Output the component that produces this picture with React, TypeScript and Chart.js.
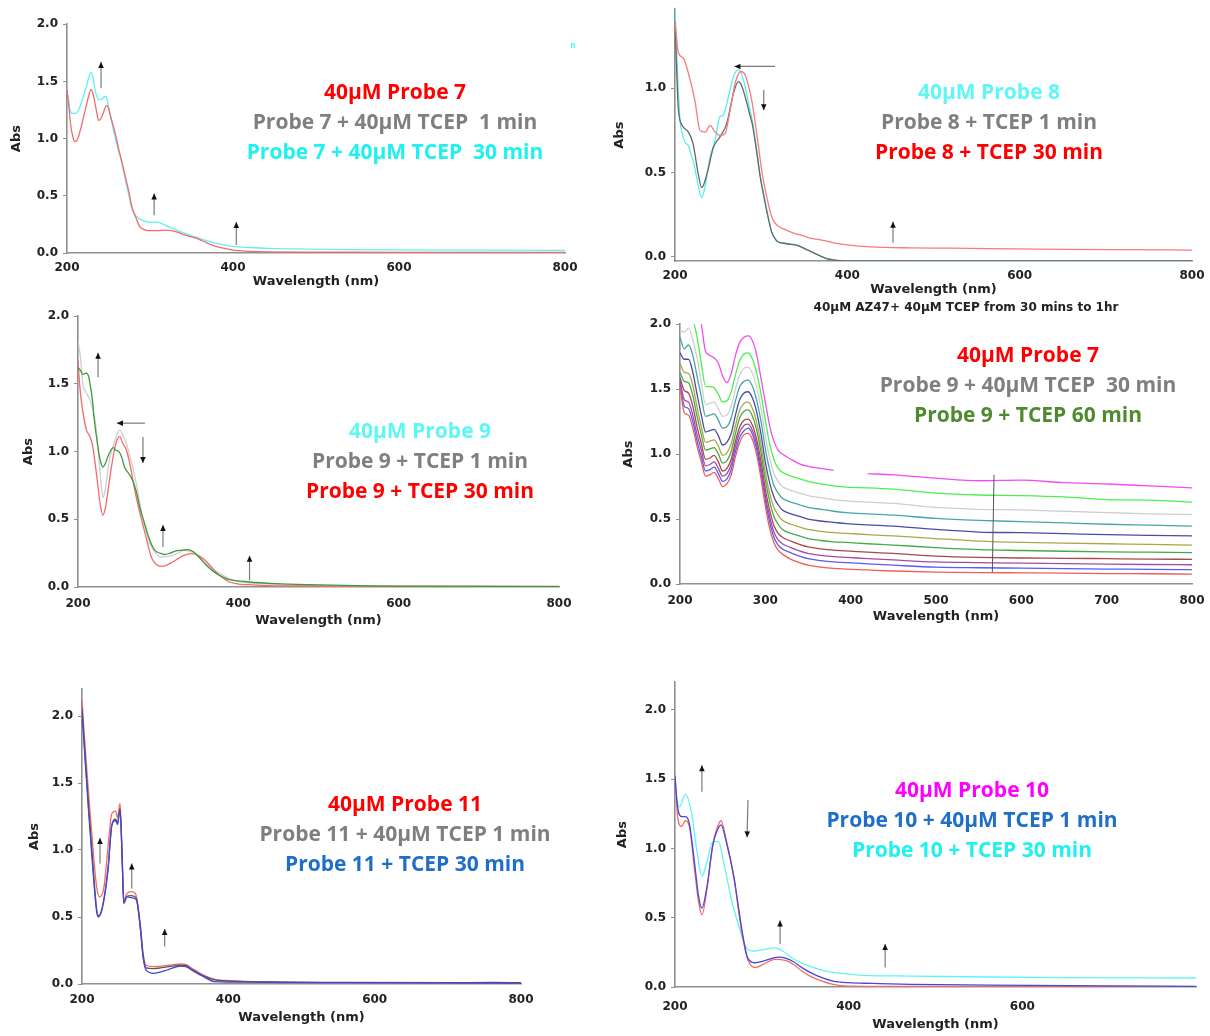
import React, { useEffect, useRef } from 'react';
import { Chart, registerables } from 'chart.js';
Chart.register(...registerables);

// ---------------- DATA ----------------
// Panel 1 (Probe 7)
const p1RedWl = [200, 202, 204.6, 207, 209, 211.5, 214, 218, 221, 224, 226, 229, 231.5, 233.7, 236, 238, 240.5, 243, 245.5, 247.5, 250, 252, 255, 258, 261, 264.6, 268, 271.5, 275, 278, 283, 287.7, 294.6, 300, 310, 318, 326, 334, 341, 350, 359, 368, 378, 390, 400, 420, 442, 500, 600, 700, 800];
const p1RedAbs = [1.43, 1.30, 1.11, 1.02, 0.975, 0.98, 1.02, 1.13, 1.22, 1.31, 1.37, 1.43, 1.39, 1.31, 1.22, 1.16, 1.17, 1.21, 1.26, 1.29, 1.27, 1.21, 1.13, 1.05, 0.95, 0.84, 0.74, 0.63, 0.52, 0.41, 0.31, 0.23, 0.20, 0.195, 0.195, 0.20, 0.195, 0.18, 0.16, 0.14, 0.12, 0.09, 0.06, 0.04, 0.025, 0.015, 0.01, 0.008, 0.006, 0.005, 0.005];
const p1CyanWl = [200, 202, 203.7, 207, 210, 214, 218, 221, 224, 226, 229, 231.5, 233.7, 236, 238, 240.5, 243, 246, 248, 250.8, 254, 257.7, 261, 264.6, 268, 271.5, 275, 278, 281.5, 285, 292, 300, 308, 315, 322, 332, 341, 350, 359, 368, 378, 390, 400, 420, 442, 490, 535, 600, 700, 800];
const p1CyanAbs = [1.41, 1.33, 1.25, 1.22, 1.22, 1.25, 1.33, 1.40, 1.47, 1.53, 1.58, 1.53, 1.43, 1.37, 1.34, 1.34, 1.35, 1.37, 1.35, 1.25, 1.14, 1.02, 0.92, 0.83, 0.72, 0.60, 0.49, 0.39, 0.34, 0.31, 0.28, 0.27, 0.27, 0.255, 0.23, 0.20, 0.175, 0.15, 0.13, 0.108, 0.087, 0.07, 0.058, 0.048, 0.04, 0.034, 0.03, 0.027, 0.025, 0.023];

// Panel 2 (Probe 8)
const p2CyanWl = [200, 202, 205.8, 208, 211.6, 215.5, 219, 222, 227, 231, 235, 240.7, 246.5, 252, 256, 262, 267.8, 273.6, 279.5, 283, 287, 290, 294, 299, 303, 308, 312, 317, 321, 328, 334, 341, 348, 356, 366, 375, 384, 392, 402, 500, 600, 700, 800];
const p2CyanAbs = [1.47, 1.2, 0.81, 0.74, 0.68, 0.66, 0.6, 0.55, 0.42, 0.35, 0.42, 0.59, 0.69, 0.83, 0.84, 0.95, 1.07, 1.11, 1.05, 0.97, 0.87, 0.8, 0.66, 0.48, 0.37, 0.24, 0.15, 0.1, 0.085, 0.08, 0.075, 0.07, 0.055, 0.035, 0.01, -0.01, -0.02, -0.024, -0.025, -0.025, -0.025, -0.025, -0.025];
const p2GreyWl = [200, 202, 204, 209.7, 215.5, 221, 227, 231, 237, 244.6, 252, 260, 267.8, 273.6, 277, 281.4, 287, 290, 294, 299, 303, 308, 312, 317, 321, 328, 334, 341, 348, 356, 366, 375, 384, 392, 402, 800];
const p2GreyAbs = [1.40, 1.1, 0.87, 0.77, 0.74, 0.67, 0.49, 0.41, 0.49, 0.65, 0.71, 0.79, 0.97, 1.04, 1.02, 0.95, 0.84, 0.78, 0.65, 0.47, 0.36, 0.235, 0.148, 0.1, 0.085, 0.078, 0.073, 0.068, 0.053, 0.034, 0.01, -0.01, -0.02, -0.024, -0.025, -0.025];
const p2RedWl = [200, 204, 209.7, 215.5, 223, 229, 235, 240.7, 246.5, 252, 258, 264, 269.8, 276.4, 281.4, 285, 289, 293, 297, 301, 304.6, 308, 312, 316, 320, 328, 337.6, 348, 357, 368.6, 384, 400, 427, 474, 520, 564, 650, 720, 800];
const p2RedAbs = [1.40, 1.21, 1.18, 1.09, 0.93, 0.75, 0.74, 0.78, 0.74, 0.72, 0.73, 0.87, 1.03, 1.10, 1.08, 1.02, 0.93, 0.8, 0.65, 0.5, 0.40, 0.32, 0.24, 0.2, 0.18, 0.16, 0.14, 0.125, 0.11, 0.1, 0.082, 0.07, 0.058, 0.052, 0.05, 0.047, 0.043, 0.041, 0.039];

// Panel 3 (Probe 9)
const p3GreenWl = [200, 203, 206, 210.5, 213, 215, 218, 220, 225, 228, 231, 234, 237, 241, 244, 247, 251, 255, 258, 263, 268, 273, 277, 282, 287, 292, 296, 302, 308, 315, 322, 330, 337, 344, 351, 360, 370, 380, 389, 400, 413, 446, 485, 580, 700, 800];
const p3GreenAbs = [1.62, 1.6, 1.57, 1.58, 1.56, 1.5, 1.38, 1.25, 1.03, 0.93, 0.886, 0.91, 0.96, 1.01, 1.03, 1.01, 1.0, 0.95, 0.886, 0.84, 0.79, 0.7, 0.59, 0.49, 0.39, 0.31, 0.27, 0.25, 0.24, 0.25, 0.266, 0.272, 0.276, 0.26, 0.22, 0.16, 0.11, 0.075, 0.054, 0.045, 0.037, 0.025, 0.017, 0.007, 0.004, 0.003];
const p3GreyWl = [200, 203, 206, 210, 215, 219, 222, 226, 229, 231, 234, 239, 243, 246, 249, 252, 256, 260.5, 265, 270, 275, 279.6, 285, 291.5, 297, 303, 310, 318, 325, 332, 339, 346, 355, 365, 377, 389, 400, 413, 450, 500, 600, 800];
const p3GreyAbs = [1.82, 1.7, 1.5, 1.44, 1.38, 1.3, 1.2, 0.95, 0.75, 0.66, 0.72, 0.93, 1.03, 1.08, 1.13, 1.16, 1.12, 1.06, 0.96, 0.84, 0.69, 0.54, 0.41, 0.295, 0.25, 0.22, 0.225, 0.234, 0.25, 0.27, 0.265, 0.246, 0.2, 0.148, 0.1, 0.06, 0.04, 0.03, 0.02, 0.012, 0.008, 0.005];
const p3RedWl = [200, 202, 204, 207, 210.5, 214, 217.6, 221, 225, 228, 231, 234, 237, 241, 246, 249, 252, 256, 260.5, 265, 270, 275, 279.6, 286, 291.5, 297, 303, 310, 318, 325, 332, 341.5, 349, 356, 363, 370, 380, 389, 400, 413, 437, 500, 600, 800];
const p3RedAbs = [1.67, 1.5, 1.38, 1.26, 1.16, 1.12, 1.06, 0.93, 0.74, 0.6, 0.53, 0.58, 0.69, 0.86, 1.03, 1.09, 1.11, 1.06, 1.01, 0.9, 0.74, 0.6, 0.49, 0.34, 0.22, 0.17, 0.153, 0.16, 0.185, 0.21, 0.234, 0.246, 0.235, 0.21, 0.17, 0.123, 0.07, 0.037, 0.022, 0.017, 0.01, 0.007, 0.005, 0.004];

// Panel 4 (time series, 30 min to 1 hr)
const p4Wl = [200, 205, 210, 215, 220, 225, 230, 235, 240, 245, 250, 255, 260, 265, 270, 275, 280, 285, 290, 295, 300, 305, 310, 315, 320, 330, 340, 350, 365, 380, 395, 420, 450, 500, 550, 600, 650, 700, 750, 800];
const p4Magenta = [2.6, 2.5, 2.4, 2.3, 2.15, 2.0, 1.79, 1.76, 1.74, 1.70, 1.60, 1.55, 1.62, 1.76, 1.86, 1.90, 1.91, 1.87, 1.76, 1.58, 1.40, 1.22, 1.10, 1.03, 1.0, 0.96, 0.925, 0.905, 0.89, 0.875, null, 0.85, 0.84, 0.815, 0.795, 0.80, 0.78, 0.77, 0.755, 0.74];
const p4Green = [2.3, 2.25, 2.2, 2.05, 1.90, 1.70, 1.52, 1.52, 1.51, 1.46, 1.40, 1.41, 1.48, 1.61, 1.72, 1.77, 1.78, 1.73, 1.62, 1.46, 1.26, 1.08, 0.96, 0.89, 0.86, 0.83, 0.81, 0.79, 0.77, 0.755, 0.745, 0.74, 0.73, 0.70, 0.685, 0.68, 0.67, 0.65, 0.645, 0.63];
const p4Grey = [1.95, 1.94, 1.97, 1.88, 1.74, 1.55, 1.38, 1.39, 1.40, 1.35, 1.29, 1.30, 1.37, 1.50, 1.61, 1.66, 1.67, 1.62, 1.51, 1.35, 1.14, 0.97, 0.85, 0.79, 0.75, 0.72, 0.70, 0.68, 0.665, 0.65, 0.64, 0.63, 0.62, 0.59, 0.575, 0.57, 0.56, 0.55, 0.54, 0.535];
const p4Teal = [1.90, 1.81, 1.84, 1.76, 1.60, 1.44, 1.29, 1.30, 1.31, 1.26, 1.20, 1.21, 1.28, 1.41, 1.52, 1.56, 1.57, 1.52, 1.41, 1.25, 1.04, 0.88, 0.76, 0.70, 0.66, 0.63, 0.61, 0.59, 0.575, 0.56, 0.55, 0.54, 0.53, 0.505, 0.49, 0.48, 0.47, 0.46, 0.453, 0.446];
const p4Navy = [1.78, 1.73, 1.73, 1.63, 1.46, 1.30, 1.17, 1.18, 1.19, 1.14, 1.07, 1.09, 1.16, 1.30, 1.42, 1.47, 1.48, 1.43, 1.32, 1.15, 0.94, 0.78, 0.67, 0.61, 0.57, 0.54, 0.52, 0.5, 0.485, 0.475, 0.465, 0.455, 0.445, 0.42, 0.40, 0.395, 0.388, 0.38, 0.375, 0.37];
const p4Olive = [1.70, 1.63, 1.62, 1.53, 1.36, 1.21, 1.09, 1.10, 1.11, 1.06, 0.99, 1.01, 1.08, 1.22, 1.34, 1.39, 1.40, 1.35, 1.24, 1.07, 0.86, 0.70, 0.59, 0.53, 0.49, 0.46, 0.44, 0.42, 0.405, 0.395, 0.39, 0.38, 0.37, 0.35, 0.33, 0.32, 0.315, 0.31, 0.305, 0.30];
const p4Green2 = [1.63, 1.56, 1.55, 1.45, 1.29, 1.15, 1.03, 1.04, 1.05, 1.00, 0.93, 0.95, 1.02, 1.16, 1.28, 1.33, 1.34, 1.29, 1.18, 1.01, 0.80, 0.64, 0.52, 0.46, 0.42, 0.39, 0.37, 0.35, 0.335, 0.325, 0.32, 0.31, 0.3, 0.28, 0.265, 0.258, 0.252, 0.248, 0.245, 0.242];
const p4Brown = [1.59, 1.49, 1.47, 1.37, 1.21, 1.08, 0.96, 0.97, 0.99, 0.94, 0.87, 0.89, 0.96, 1.10, 1.21, 1.26, 1.27, 1.22, 1.11, 0.94, 0.73, 0.57, 0.45, 0.39, 0.36, 0.33, 0.305, 0.285, 0.27, 0.26, 0.255, 0.245, 0.235, 0.215, 0.205, 0.2, 0.198, 0.195, 0.192, 0.19];
const p4Purple = [1.57, 1.42, 1.40, 1.30, 1.15, 1.03, 0.91, 0.92, 0.94, 0.89, 0.83, 0.85, 0.92, 1.06, 1.17, 1.22, 1.23, 1.18, 1.07, 0.89, 0.68, 0.52, 0.40, 0.34, 0.31, 0.28, 0.255, 0.235, 0.22, 0.21, 0.205, 0.195, 0.185, 0.17, 0.165, 0.16, 0.157, 0.153, 0.15, 0.148];
const p4Blue = [1.54, 1.37, 1.35, 1.25, 1.10, 0.98, 0.87, 0.88, 0.90, 0.85, 0.79, 0.81, 0.88, 1.02, 1.13, 1.18, 1.20, 1.15, 1.03, 0.85, 0.64, 0.48, 0.36, 0.30, 0.27, 0.24, 0.215, 0.195, 0.18, 0.17, 0.165, 0.155, 0.145, 0.13, 0.125, 0.122, 0.118, 0.115, 0.113, 0.11];
const p4Red = [1.52, 1.32, 1.30, 1.20, 1.06, 0.94, 0.83, 0.84, 0.86, 0.81, 0.75, 0.77, 0.84, 0.98, 1.09, 1.15, 1.16, 1.11, 0.99, 0.81, 0.60, 0.43, 0.32, 0.26, 0.23, 0.19, 0.165, 0.145, 0.13, 0.12, 0.115, 0.108, 0.1, 0.092, 0.088, 0.086, 0.084, 0.08, 0.079, 0.076];
const p4MarkerWl = [568, 566];
const p4MarkerAbs = [0.84, 0.09];

// Panel 5 (Probe 11)
const p5RedWl = [200, 204, 209, 214.6, 220, 224, 230, 235.5, 240.7, 246, 248.5, 252, 255, 257, 261.5, 266.8, 271, 274.6, 280, 283.5, 287.6, 298, 319, 334.6, 342, 350, 366, 381.6, 402, 454.6, 559, 700, 800];
const p5RedAbs = [2.12, 1.79, 1.42, 1.04, 0.725, 0.65, 0.725, 1.02, 1.27, 1.29, 1.24, 1.35, 0.92, 0.63, 0.675, 0.69, 0.685, 0.65, 0.43, 0.23, 0.14, 0.13, 0.14, 0.15, 0.145, 0.117, 0.067, 0.035, 0.025, 0.015, 0.01, 0.007, 0.006];
const p5GreyWl = [200, 204, 209, 214.6, 220, 222.4, 227.6, 235.5, 240.7, 246, 248.5, 252, 255, 257, 261.5, 266.8, 271, 274.6, 280, 283.5, 287.6, 298, 319, 334.6, 342, 350, 366, 381.6, 402, 454.6, 559, 700, 760, 800];
const p5GreyAbs = [2.06, 1.72, 1.32, 0.92, 0.56, 0.51, 0.57, 0.86, 1.18, 1.23, 1.2, 1.31, 0.92, 0.61, 0.655, 0.66, 0.655, 0.63, 0.41, 0.21, 0.12, 0.115, 0.13, 0.14, 0.138, 0.11, 0.06, 0.03, 0.022, 0.015, 0.012, 0.01, 0.012, 0.01];
const p5BlueWl = [200, 204, 209, 214.6, 220, 222.4, 227.6, 235.5, 240.7, 246, 248.5, 252, 255, 257, 261.5, 266.8, 271, 274.6, 280, 283.5, 287.6, 298, 319, 334.6, 342, 350, 366, 381.6, 402, 454.6, 559, 700, 800];
const p5BlueAbs = [2.04, 1.69, 1.29, 0.87, 0.54, 0.50, 0.56, 0.845, 1.185, 1.22, 1.19, 1.30, 0.92, 0.60, 0.65, 0.645, 0.64, 0.626, 0.40, 0.20, 0.104, 0.08, 0.11, 0.134, 0.13, 0.104, 0.055, 0.017, 0.015, 0.012, 0.01, 0.008, 0.007];

// Panel 6 (Probe 10)
const p6RedWl = [200, 203, 207.6, 212, 216.5, 223, 227, 231, 236.7, 243.4, 248, 253, 259, 268, 273, 277, 283.7, 292.6, 301.6, 315, 328, 337, 346, 355, 364, 382, 400, 500, 800];
const p6RedAbs = [1.53, 1.23, 1.16, 1.2, 1.16, 0.82, 0.62, 0.52, 0.70, 1.02, 1.14, 1.20, 1.06, 0.78, 0.56, 0.39, 0.20, 0.14, 0.163, 0.20, 0.19, 0.16, 0.115, 0.08, 0.055, 0.019, 0.007, 0.004, 0.003];
const p6BlueWl = [200, 203, 207.6, 212, 216.5, 223, 227, 231, 236.7, 243.4, 248, 253, 259, 268, 273, 277, 283.7, 292.6, 301.6, 319.5, 328, 337, 346, 364, 382, 400, 427, 472, 561, 700, 800];
const p6BlueAbs = [1.52, 1.30, 1.23, 1.23, 1.18, 0.87, 0.66, 0.57, 0.72, 1.02, 1.12, 1.17, 1.05, 0.79, 0.58, 0.415, 0.21, 0.175, 0.187, 0.216, 0.206, 0.18, 0.14, 0.08, 0.043, 0.031, 0.026, 0.019, 0.014, 0.008, 0.005];
const p6CyanWl = [200, 205, 212, 219, 225.5, 231, 236.7, 243.4, 250, 257, 265.8, 274.7, 281, 290, 301.6, 315, 324, 337, 355, 373, 392, 418, 471.6, 561, 650.5, 800];
const p6CyanAbs = [1.42, 1.30, 1.39, 1.26, 0.97, 0.80, 0.90, 1.05, 1.05, 0.87, 0.61, 0.415, 0.295, 0.26, 0.27, 0.283, 0.26, 0.20, 0.15, 0.115, 0.098, 0.084, 0.079, 0.072, 0.067, 0.065];

// Arrow annotations [x1, y1, x2, y2] in data units (tail -> head)
const p1Arrows = [[241, 1.44, 241, 1.67], [305, 0.33, 305, 0.52], [404, 0.07, 404, 0.27]];
const p2Arrows = [[316, 1.13, 269, 1.13], [303, 0.99, 303, 0.87], [453, 0.083, 453, 0.207]];
const p3Arrows = [[225, 1.55, 225, 1.73], [283.5, 1.21, 248.6, 1.21], [281, 1.107, 281, 0.915], [306, 0.295, 306, 0.457], [414, 0.05, 414, 0.23]];
const p5Arrows = [[224.6, 0.90, 224.6, 1.09], [268, 0.71, 268, 0.90], [313, 0.28, 313, 0.41]];
const p6Arrows = [[231, 1.41, 231, 1.60], [284, 1.35, 283, 1.08], [321, 0.31, 321, 0.48], [442, 0.14, 442, 0.31]];

// Tick labels
const xTicksFull = [200, 400, 600, 800];
const xTicksHundreds = [200, 300, 400, 500, 600, 700, 800];
const xTicksP6 = [200, 400, 600];
const yTicksFull = [0, 0.5, 1.0, 1.5, 2.0];
const yTicksP2 = [0, 0.5, 1.0];

// Legend-like captions
const p1Labels = ['40μM Probe 7', 'Probe 7 + 40μM TCEP  1 min', 'Probe 7 + 40μM TCEP  30 min'];
const p2Labels = ['40μM Probe 8', 'Probe 8 + TCEP 1 min', 'Probe 8 + TCEP 30 min'];
const p3Labels = ['40μM Probe 9', 'Probe 9 + TCEP 1 min', 'Probe 9 + TCEP 30 min'];
const p4Labels = ['40μM Probe 7', 'Probe 9 + 40μM TCEP  30 min', 'Probe 9 + TCEP 60 min'];
const p5Labels = ['40μM Probe 11', 'Probe 11 + 40μM TCEP 1 min', 'Probe 11 + TCEP 30 min'];
const p6Labels = ['40μM Probe 10', 'Probe 10 + 40μM TCEP 1 min', 'Probe 10 + TCEP 30 min'];
const p4Caption = '40μM AZ47+ 40μM TCEP from 30 mins to 1hr';

// ---------------- RENDERING ----------------
const PAD_TOP = 12;
const PAD_RIGHT = 22;

interface SeriesCfg { wl: number[]; abs: (number | null)[]; color: string; width?: number; tension?: boolean; }
interface PanelCfg {
  left: number; top: number; right: number; bottom: number;
  yMin: number; yMax: number; yTicks: number[]; xTicks: number[];
  yAxisW: number; xAxisH: number; xLabelPad: number;
  series: SeriesCfg[]; arrows: number[][];
}

const arrowPlugin = {
  id: 'arrowMarks',
  afterDatasetsDraw(chart: any, _args: any, opts: any) {
    const items: number[][] = (opts && opts.items) || [];
    const { ctx, scales } = chart;
    const xs = scales.x, ys = scales.y;
    ctx.save();
    for (const a of items) {
      const x1 = xs.getPixelForValue(a[0]);
      const y1 = ys.getPixelForValue(a[1]);
      const x2 = xs.getPixelForValue(a[2]);
      const y2 = ys.getPixelForValue(a[3]);
      ctx.strokeStyle = '#7a7a7a';
      ctx.lineWidth = 1.2;
      ctx.beginPath();
      ctx.moveTo(x1, y1);
      ctx.lineTo(x2, y2);
      ctx.stroke();
      const ang = Math.atan2(y2 - y1, x2 - x1);
      const L = 6, W = 2.8;
      ctx.fillStyle = '#111';
      ctx.beginPath();
      ctx.moveTo(x2, y2);
      ctx.lineTo(x2 - L * Math.cos(ang) + W * Math.sin(ang), y2 - L * Math.sin(ang) - W * Math.cos(ang));
      ctx.lineTo(x2 - L * Math.cos(ang) - W * Math.sin(ang), y2 - L * Math.sin(ang) + W * Math.cos(ang));
      ctx.closePath();
      ctx.fill();
    }
    ctx.restore();
  },
};

const tickFont = { family: '"DejaVu Sans", Arial, sans-serif', weight: 'bold' as const, size: 12 };
const titleFont = { family: '"DejaVu Sans", Arial, sans-serif', weight: 'bold' as const, size: 13 };

function Panel({ cfg }: { cfg: PanelCfg }) {
  const ref = useRef<HTMLCanvasElement | null>(null);
  const width = cfg.right - cfg.left + cfg.yAxisW + PAD_RIGHT;
  const height = cfg.bottom - cfg.top + PAD_TOP + cfg.xAxisH;
  useEffect(() => {
    if (!ref.current) return;
    const chart = new Chart(ref.current, {
      type: 'line',
      data: {
        datasets: cfg.series.map((s) => ({
          data: s.wl.map((x, i) => ({ x, y: s.abs[i] })),
          borderColor: s.color,
          borderWidth: s.width ?? 1.3,
          pointRadius: 0,
          fill: false,
          cubicInterpolationMode: s.tension === false ? 'default' : 'monotone',
          tension: 0,
          spanGaps: false,
        })),
      } as any,
      options: {
        animation: false,
        responsive: false,
        devicePixelRatio: 1,
        events: [],
        layout: { padding: { left: 0, top: PAD_TOP, right: PAD_RIGHT, bottom: 0 } },
        plugins: {
          legend: { display: false },
          tooltip: { enabled: false },
          arrowMarks: { items: cfg.arrows },
        } as any,
        scales: {
          x: {
            type: 'linear',
            min: 200,
            max: 800,
            afterBuildTicks: (s: any) => { s.ticks = cfg.xTicks.map((v) => ({ value: v })); },
            afterFit: (s: any) => { s.height = cfg.xAxisH; },
            ticks: {
              font: tickFont, color: '#222', padding: cfg.xLabelPad, maxRotation: 0, autoSkip: false,
              callback: (v: any) => String(v),
            },
            grid: { display: true, drawOnChartArea: false, drawTicks: true, tickLength: 4, color: 'rgba(0,0,0,0)' },
            border: { display: true, color: '#8f8f8f', width: 1.6 },
            title: { display: true, text: 'Wavelength (nm)', font: titleFont, color: '#222' },
          },
          y: {
            type: 'linear',
            min: cfg.yMin,
            max: cfg.yMax,
            afterBuildTicks: (s: any) => { s.ticks = cfg.yTicks.map((v) => ({ value: v })); },
            afterFit: (s: any) => { s.width = cfg.yAxisW; },
            ticks: { font: tickFont, color: '#222', padding: 5, callback: (v: any) => Number(v).toFixed(1) },
            grid: { display: true, drawOnChartArea: false, drawTicks: true, tickLength: 4, color: '#8f8f8f' },
            border: { display: true, color: '#8f8f8f', width: 1.6 },
            title: { display: true, text: 'Abs', font: titleFont, color: '#222' },
          },
        } as any,
      },
      plugins: [arrowPlugin],
    });
    return () => chart.destroy();
  }, []);
  return (
    <canvas
      ref={ref}
      width={width}
      height={height}
      style={{ position: 'absolute', left: cfg.left - cfg.yAxisW, top: cfg.top - PAD_TOP, width, height }}
    />
  );
}

const RED = '#f46a6a';
const panels: PanelCfg[] = [
  {
    left: 67, top: 24, right: 565, bottom: 253, yMin: 0, yMax: 2.0, yTicks: yTicksFull, xTicks: xTicksFull,
    yAxisW: 62, xAxisH: 40, xLabelPad: 4, arrows: p1Arrows,
    series: [
      { wl: p1RedWl, abs: p1RedAbs, color: RED },
      { wl: p1CyanWl, abs: p1CyanAbs, color: '#5ff2f2' },
    ],
  },
  {
    left: 675, top: 8.6, right: 1192, bottom: 261.4, yMin: -0.026, yMax: 1.47, yTicks: yTicksP2, xTicks: xTicksFull,
    yAxisW: 67, xAxisH: 40, xLabelPad: 4, arrows: p2Arrows,
    series: [
      { wl: p2RedWl, abs: p2RedAbs, color: '#f77b7b' },
      { wl: p2GreyWl, abs: p2GreyAbs, color: '#666666' },
      { wl: p2CyanWl, abs: p2CyanAbs, color: '#55eeee' },
    ],
  },
  {
    left: 78, top: 316, right: 559, bottom: 587, yMin: 0, yMax: 2.0, yTicks: yTicksFull, xTicks: xTicksFull,
    yAxisW: 61, xAxisH: 45, xLabelPad: 6, arrows: p3Arrows,
    series: [
      { wl: p3GreenWl, abs: p3GreenAbs, color: '#3f9a3f' },
      { wl: p3RedWl, abs: p3RedAbs, color: RED },
      { wl: p3GreyWl, abs: p3GreyAbs, color: '#cfcfcf' },
    ],
  },
  {
    left: 680, top: 324, right: 1192, bottom: 584, yMin: 0, yMax: 2.0, yTicks: yTicksFull, xTicks: xTicksHundreds,
    yAxisW: 63, xAxisH: 44, xLabelPad: 6, arrows: [],
    series: [
      { wl: p4MarkerWl, abs: p4MarkerAbs, color: '#555555', width: 1, tension: false },
      { wl: p4Wl, abs: p4Red, color: '#f35b5b' },
      { wl: p4Wl, abs: p4Blue, color: '#5a5af5' },
      { wl: p4Wl, abs: p4Purple, color: '#a24ca2' },
      { wl: p4Wl, abs: p4Brown, color: '#a84848' },
      { wl: p4Wl, abs: p4Green2, color: '#46a846' },
      { wl: p4Wl, abs: p4Olive, color: '#a8a845' },
      { wl: p4Wl, abs: p4Navy, color: '#4a4aa8' },
      { wl: p4Wl, abs: p4Teal, color: '#46a6a6' },
      { wl: p4Wl, abs: p4Grey, color: '#cfcfcf' },
      { wl: p4Wl, abs: p4Green, color: '#4cf04c' },
      { wl: p4Wl, abs: p4Magenta, color: '#f24cf2' },
    ],
  },
  {
    left: 82, top: 689, right: 521, bottom: 984, yMin: 0, yMax: 2.2, yTicks: yTicksFull, xTicks: xTicksFull,
    yAxisW: 59, xAxisH: 45, xLabelPad: 5, arrows: p5Arrows,
    series: [
      { wl: p5BlueWl, abs: p5BlueAbs, color: '#4646d2' },
      { wl: p5GreyWl, abs: p5GreyAbs, color: '#555555' },
      { wl: p5RedWl, abs: p5RedAbs, color: RED },
    ],
  },
  {
    left: 675, top: 682, right: 1196, bottom: 987, yMin: 0, yMax: 2.2, yTicks: yTicksFull, xTicks: xTicksP6,
    yAxisW: 64, xAxisH: 49, xLabelPad: 9, arrows: p6Arrows,
    series: [
      { wl: p6BlueWl, abs: p6BlueAbs, color: '#4848d4' },
      { wl: p6RedWl, abs: p6RedAbs, color: RED },
      { wl: p6CyanWl, abs: p6CyanAbs, color: '#5ff4f4' },
    ],
  },
];

interface LabelBlock { cx: number; cy: number; texts: string[]; colors: string[]; }
const labelBlocks: LabelBlock[] = [
  { cx: 395, cy: 91, texts: p1Labels, colors: ['#ff0000', '#7f7f7f', '#1ff0f0'] },
  { cx: 989, cy: 91, texts: p2Labels, colors: ['#5ff6f6', '#7f7f7f', '#ff0000'] },
  { cx: 420, cy: 430, texts: p3Labels, colors: ['#5ff6f6', '#7f7f7f', '#ff0000'] },
  { cx: 1028, cy: 354, texts: p4Labels, colors: ['#ff0000', '#7f7f7f', '#4f8a2f'] },
  { cx: 405, cy: 803, texts: p5Labels, colors: ['#ff0000', '#7f7f7f', '#1f6fc8'] },
  { cx: 972, cy: 789, texts: p6Labels, colors: ['#ff00ff', '#1f6fc8', '#1ff0f0'] },
];

export default function App() {
  return (
    <div style={{ position: 'absolute', left: 0, top: 0, width: 1210, height: 1036, overflow: 'hidden', background: '#fff' }}>
      {panels.map((p, i) => <Panel key={i} cfg={p} />)}
      {labelBlocks.map((b, i) =>
        b.texts.map((t, j) => (
          <div
            key={`${i}-${j}`}
            style={{
              position: 'absolute', left: b.cx, top: b.cy + j * 30, transform: 'translate(-50%, -50%)',
              color: b.colors[j], font: '700 21px "Open Sans", sans-serif', whiteSpace: 'pre', lineHeight: '24px',
            }}
          >{t}</div>
        ))
      )}
      <div style={{ position: 'absolute', left: 966, top: 307, transform: 'translate(-50%, -50%)', font: 'bold 12px "DejaVu Sans", sans-serif', color: '#222', whiteSpace: 'pre' }}>{p4Caption}</div>
      <div style={{ position: 'absolute', left: 573, top: 44, transform: 'translate(-50%, -50%)', font: 'bold 8px "Open Sans", sans-serif', color: '#3ff' }}>n</div>
    </div>
  );
}
